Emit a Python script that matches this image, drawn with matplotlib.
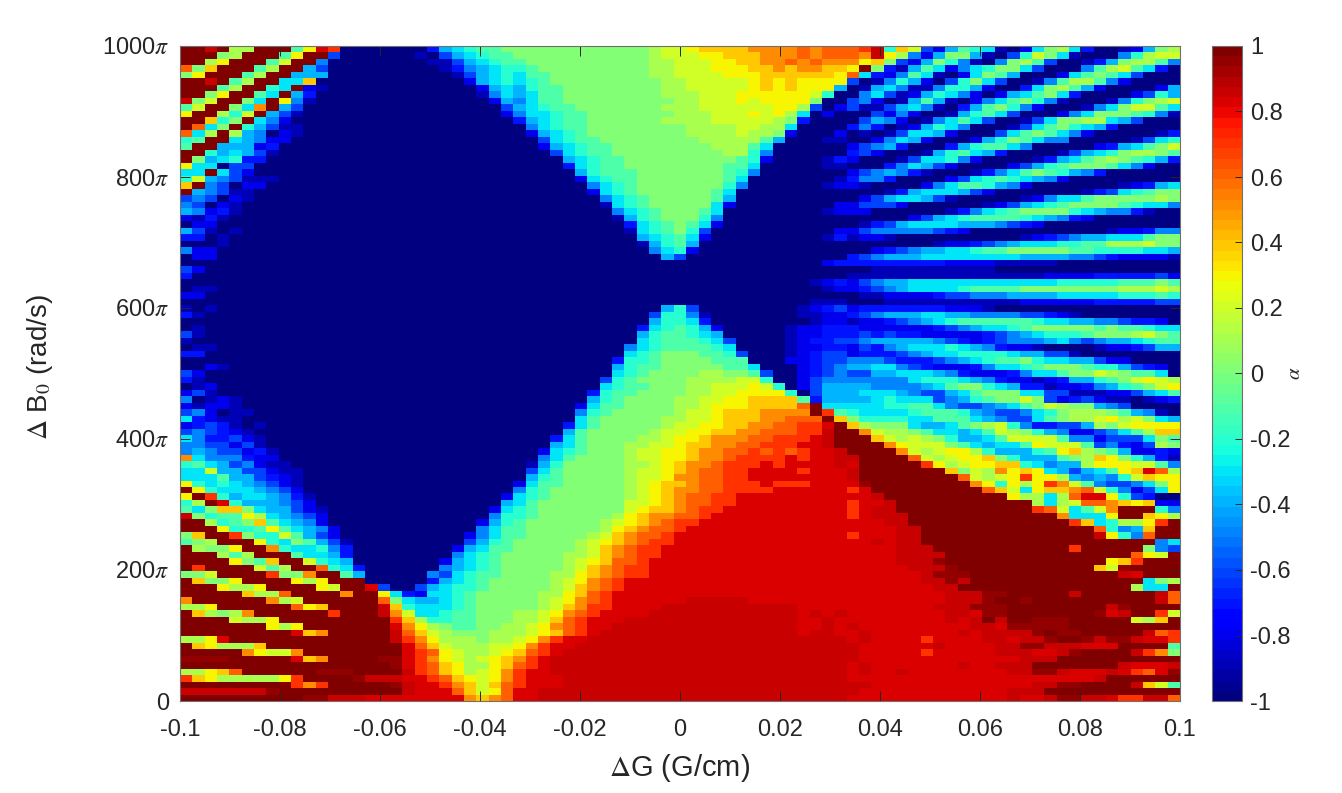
import numpy as np
import matplotlib
matplotlib.use('Agg')
import matplotlib.pyplot as plt

# values, one letter per cell, top row first
# a=-1 ... k=0 ... u=1 (see LEVELS)
LETTERS = 'abcdefghijklmnopqrstuv'
LEVELS = [-1, -.9, -.8, -.7, -.6, -.5, -.4, -.3, -.2, -.1, 0, .1, .2, .3, .4, .5, .6, .7, .82, .87, 1, .95]

# columns 0-26 (short rows carry on in dark blue)
left = [
    "uutulluuujnsraaaaaaadghijjk", "uuukluuujnuueaaaaaabaeghijj", "uulnuuujmuufaaaaaaaabbeghij",
    "qkouuujluugeaaaaaaaaabdfghi", "knuuujluugggaaaaaaaaaabeghi", "uutujluuhhoaaaaaaaaaaaacghi",
    "uuujluuihucbaaaaaaaaaaaacgh", "uuknuujhugdaaaaaaaaaaaaabfh", "tkmuukhunfbaaaaaaaaaaaaaacg",
    "jmuukhpugeaaaaaaaaaaaaaaaae", "nuulimugebaaaaaaaaaaaaaaaac", "uuoikuhfc", "uqhkuigebb", "qhlulgfacb",
    "ijuuhgfcc", "juugggcd", "uuighgeb", "ukghidd", "nhhaee", "hhuhec", "imgfebbb", "oufeacc",
    "ugfebb", "efeacb", "feacb", "gfcdb", "cbdb", "acc", "gebab", "ddab", "aaab", "fcc", "acc",
    "a", "ec", "d", "a", "abb", "cc", "a", "bab", "db", "a", "ab", "eb", "b", "abb", "dd", "a",
    "aacb", "ec", "db", "abc", "ceba", "fabcb", "cbccb", "efcabb", "hdcbbaa", "cdedbab", "efedcb",
    "hfddecb", "ffeeceb", "fgfeecdb", "phfffdcc", "ijhgefcbb", "hhmggeecbb", "hhhjggedcb",
    "nihihgfecb", "unihhhgfec", "nurighhgfdbaaaaaaaaaaaaaaac", "ilusigggfecaaaaaaaaaaaaaaag",
    "jhkookhggecbaaaaaaaaaaaaach", "tkijjnlhgfecaaaaaaaaaaaaafi", "uulijkojhgfcaaaaaaaaaaaacgi",
    "uuuniijnjhgfcaaaaaaaaaaafhj", "kouurkiimjgecaaaaaaaaaacfhj", "jkluuunihkjgebaaaaaaaaaegij",
    "ulkknuupihhifdaaaaaaaacghjj", "uuuljluuujhhgdaaaaaaaafhijk", "uuuunkjouumihgaaaaaaacghijk",
    "uruuuumjluuqihdaaaaaafghijk", "kkmuuuurkkpuujgaaaaafehijjk", "uokknuuuunlnuuuaaaaadghijkk",
    "uuunllnuuuunmuuseaaeghiijkk", "uuuuuollquuuupuunhdchhijkkk", "puuuuuuplmuuuuuuqkhgghijkkk",
    "llnuuuuuuqnouuuutoihhhijkkk", "uolklpuuuuuuruuutpmhhijjkkk", "uuuumllnuuuuuuuuuroliijjkkk",
    "uuuuuuunlnuuuuuuuspnlkjjkkl", "uuuuuuuuusopuuuuutqomlkkkll", "llnsuuuuuuuuuuuuutrpnlllkll",
    "uonlllouuuuuuuuuuusqomlllmm", "uuuuupnmmpuuuuuuuusrqnmllmn", "vvvvuuuuusopuuuuvvsrpnmlmno",
    "uuuuuuuuuuuuuuuuuvsrqonllno", "llnoquuuuuuvvvuuuutrqonlmnp", "ronlllllnruuuuvtttssrqonmnp",
    "uuuuuuuuurpruuuuuvtssrpomoq", "tttttttvuuuuuuuuuutsssqomnq", "uuuuuuuuuuvvtttsssssssspopq",
]

# columns 27-53 (short rows carry on with their last letter)
mid = [
    "kkkkkkkkkkklmmnooooppppqpqq", "kkkkkkkkkkklmmmnnooopppqpqq", "jkkkkkkkkkkllmmmnnooppqpqpp",
    "ijkkkkkkkkkllmmmnnnoopoppoo", "hjjkkkkkkkkllmmmmnnnoooooon", "hijkkkkkkkkkllmmmmmnononnnn",
    "gijjkkkkkkkkllmmmmmnononnng", "ghjjkkkkkkkklllmmmnnnnnnmia", "fhjjkkkkkkkkkllmmmnmnnnnkaa",
    "ghijjkkkkkkklllmmmmmmnnleac", "fhhijjkkkkkkklllmmmnmnlhaca", "dghijjkkkkkkllllmmmmmlkdaaa",
    "afhijjkkkkkkkkllllmmllhaaaa", "acghijkkkkkkkkllllmllkcaaac", "aaehijjkkkkkkkklllllјgaaabb".replace("ј", "j"),
    "aacghijjkkkkkkkkllljhaaaaaa", "aaaehijjkkkkkkkkkllifaaaaaa", "aaaaghijjkkkkkkkkkjicaaaabd",
    "aaaadhijjkkkkkkkkjjhaaaaabb", "aaaaagijjjkkkkkkkjifaaaaaaa", "aaaaachijjkkkkkkkjhaaaaaaab",
    "aaaaaafhijkkkkkkkifaaaaaabc", "aaaaaachijkkkkkkjhaaaaaaaaa", "aaaaaaafhijkkkkkjgaaaaaaaaa",
    "aaaaaaabhijkkkkkhcaaaaaaaac", "aaaaaaaafhijkkkjhaaaaaaaabc", "aaaaaaaabgijkkkifaaaaaaaaaa",
    "aaaaaaaaadhijkjhcaaaaaaaaaa", "aaaaaaaaabhijkieaaaaaaaaaac", "aaaaaaaaaaghijhcaaaaaaaaabd",
    "aaaaaaaaaabgijga", "aaaaaaaaaaafhica", "aaaaaaaaaaaagea",
    "aaaaaaaaaaaaaaaaaaaaaaaaacd", "a", "a", "aaaaaaaaaaaaaaaaaaaaaaaabcd", "aaaaaaaaaaaaaaaaaaaaaaaaabc", "a",
    "aaaaaaaaaaaaaaaaaaaaaaaabbb", "aaaaaaaaaaaagieaaaaaaaabcde", "aaaaaaaaaaaeiifbaaaaaaabbcc",
    "aaaaaaaaaaagiihdaaaaaaaabcc", "aaaaaaaaaadhijigcaaaaabccdd", "aaaaaaaaaagijjihgaaaaabccdd",
    "aaaaaaaaaahijjjiheaaaabcdde", "aaaaaaaaafhijjjjihaaaabccdd", "aaaaaaaaahijkkkjjieaaabcdee",
    "aaaaaaaadiijkkkkjjjaaaccdee", "aaaaaaaagijjkkkkkjjhaaacdef", "aaaaaaaahijkkkkllkkjeaacdef",
    "aaaaaaaeijkkkkllllmmiaaceff", "aaaaaaahijjkkkllmmmnmiacegg", "aaaaaadijjkkkkllmmnnnniaegg",
    "aaaaaagijkkkkllmmnnoooojdgg", "aaaaachjjkkkkllmnnnooooquhh", "aaaaafijkkkkklmmnoooppppurj",
    "aaaaahjkkkkkllmmnoooppqqquo", "aaaadhjkkkkklmmnnooppqqrrsu", "aaaagjkkkkklmmnnooppqqqrrtu",
    "aaadhjkkkkllmnnopppqqrrrstu", "aaaghjkkkllmmnooppqqrrrsstu",
    "aachijkkklmmnnoppqqrqrqrsst", "aafhjkkkklmmnnoppqrrrrsrsst", "abgikkkkkllmnoppqrrrsrsssst",
    "aehjkkkkklmmnopqqrrssssrsss", "agijkkkkklmmnppqqrrssssssss",
    "chjjkkkkklmnoopqqrrrsrrrsss", "fijkkkkkklmnoppqqrrrrssssss", "hijkkkkkklmnopqqrrsssssssss",
    "hjkkkkkkkmmnopqqrrsssssssss", "ijkkkkkkkmnoopqrrssssssssss", "ijkkkkkklnoppqqrsssssssssss",
    "jkkkkkklmnopqrrssssssssssss", "jkkkkkklnopqqrsssssssssssss", "jkkkkklmopqqrssssssssssssss",
    "kkkkklmnopqrrssssssssssssss", "kkkkklmopqrrsssssssssssssss", "kkkkllmopqrrsssssssssssssss",
    "kkkklmnoqqrssssssssssssssss", "kkkklmopqrrssssssssssssssss", "kkkllnopqrrssssssssssssssss",
    "kkklmnpqrssssssssssssssssss", "kkklmopqrssssssssssssssssss", "kkllnoqrsssssssssssssssssss",
    "kklmnpqrsssssstttttssssssss", "kklmoprrsssstttttttttttssss", "llmnpqrssssttttttttttttstst",
    "llmoqrssstttttttttttttt" + "ssts", "lmnpqrsstttttttttttttttssts", "lmnoqrstttttttttttttttt" + "stts",
    "mnprssttttttttttttttttttttt", "nprsstttttttttttttttttttttt", "oqrsttttttttttttttttttttttt",
    "prstttttttttttttttttttttttt", "qrstttttttttttttttttttttttt", "rsstttttttttttttttttttttttt",
    "rsssttttttttttttttttttttttt", "rsssttttttttttttttttttttttt", "ssttttttttttttttttttttttttt",
    "ssttttttttttttttttttttttttt",
]

# columns 54-80
right = [
    "qrtiomecgjihbachklhdaabcgkl", "qptnlfcgkkgbaeimkhbaaafilmm", "pnokecgkifbafkljeaabdgklljf",
    "nukdbgjhcfhikkheaaafjlmjhda", "qhdcfjhbachkjgaaachjkjheaaa", "eabfigcaeikheaabfjlljfcaaaa",
    "abghfbbfiigcaadhkljgcaaaacg", "afhebcgihfcacghjkhdaaaaceig", "efcabgjgbacfhjkifbaaabfiklm",
    "ebbeghfbadgjkifcaaabfhkmmjh", "aaecfcaabgijheaaacfhkkkjifb", "aegfcabfhjheaabehkkllhgeaaa",
    "dfdabcgihfaaabehjkihgdaaaaa", "ababehhgcaaaehjkjhfcaaaaabd", "aacfhgcaaacgikjhffaaaaabehi",
    "cefgdaaadgijjhfaaaaacdghjkm", "decaaabgijhgdaaaabeghikllkj", "caaabehhifcaaaabdghjklkjigd",
    "aaadfhgecaaaacegijkkkjhfcaa", "cefgfdbaaabdfhjkjigfdaaaaaa", "dffdaaaacehijihgfcaaaaaaaaa",
    "cbaaaacfhjjigfcaaaaaaabcdgh", "aaabdghhhgecaaaaaaabdehijkk", "aceghhgebaaaaabcfhhjkkkkklk",
    "ceeecaaaaaabceghijkkkkjihhf", "ccaaaaaabdfhijkkkkihgffdbaa", "aaaaacegh" + "ijjjjihgfdcaaaaaaa",
    "abdeghhhhgggfedcaaaaaaaaaaa", "cefffffedcaaaaaaaaaaabccdff", "bccbaaaaaaaaaabcdefgghhhjkk",
    "aaaaaaabccdefghhhiijjlllmkk", "aacdefgghhijjkkkkkjjiiiihhg", "defggghhhhhhhhggggffedccccb",
    "ddddddddccccbbbbbaaaaaaaaaa", "aabbbbbbbbbbaaaaaaaaaaaaaaa", "bbbbbbbbbbbbbbbbccccdddddec",
    "cefgghhhhhhhhhhhhiiiiijjjkj", "cdefghhhhijjjjkkkkkkkklllml", "abbccccdeefffgggghhhhhiiiji",
    "aaabbbbbbbbbbbccccccdddddee", "cdddddddcccbaaaaaaaaaaaaaaa", "defggghhggffffeedcbaaaaaaaa",
    "bccdefghijjjjjjihhggffeddca", "dccccccdefghhijkkkkkjkjjihh", "dededdcccccdefghiiijkkklmkj",
    "efgggggfedcdefffghfefgghijj", "cedfghhhihgfdccbaaaabccdegg", "cdddefghhiiiihggeebaaaaaaaa",
    "fffedddefghijjkihhggeccaaaa", "gghhfedcccdfhhijkkkjiigedca", "eegghhhgfdcccdfhhjkkmlkjjha",
    "fffffhiiihgfdccbcdggijkmnml", "ggffffghjkkihgddbccdfgijkmn", "ghhhgfeeghjkkkhheebbbcceghj",
    "gghihhhefgijkkmkecdecbbabcd", "hhhiijjhfeefghjkmlkkgfeaaaa", "ihhhhijjjigfeefhiklllkjgfba",
    "kiiiihhjjjhgfeehjkllmnlmkhg", "olkkkhgghjklmifddeeglkmnnnn", "upmllkjhhghjmlkigfccefhjloo",
    "uuomlmlkigghjmmmmjffceeehkj", "uuupnmmmkjhghhjnmmmjefdcelk", "uuuupmlmnnliggg" + "ijnolkjgccdc",
    "tuuuuqmlmnnokigggjklonkigdb", "suuuuurnlmnnooihfgglnnnmmjf", "tuuuuuuuokmlpnonhgeghjnosql",
    "tuuuuuuuuqmlmnrnnlgfgfimonn", "svuuuuuuuupninlnrpmjfeefhkn", "rsuuuuuuuuuqomhnoopqmifcehn",
    "sstuuuuuuuuuunllhlqssniedaa", "rsstuuuuuuuuuuulhlmqqponocc", "rsttuuuuuuuuuuurqmhjmpuuuif",
    "rstttuuuuuuuuuuuuphhhnuuonl", "ssstt" + "uuuuuuuuuuuuu" + "rohillnru", "sssstt" + "uuuuuuuuuuuuuu" + "qifgouu",
    "rssstt" + "uuuuuuuuuuuuuu" + "tnifquu", "sststtuuuuuuuuuuuuuuuuuuufh", "sssstttuuuuuuuuuuuruuuuukfe",
    "ssssttttuuuuuuuuuuuuuuuqnmu", "sssstttvuuuuuuuuuuuuunoruuu", "ssssstttvuuuuuuuuuuuomvuuuu",
    "sssssstvvvuuuuuuuuuuuutsuuu", "ssssss" + "ttvt" + "uuuuuuuuuuuuuu" + "hkl", "sssssssttuuuuuuuuuuuuuulhhu",
    "sssssssstttvvuuuuutuuuuuutq", "sssssssstttvuuvuuuuuuuuuutq", "ssssssstttvvvuuuuuuuutvuuuu",
    "ssssssssttsvvuuuuuuuvstuurm", "sssssssststutuuvvvuuuuumlou", "tsssssssssttsvvvvvuuuuuuuuu",
    "stssssssststtttvuvvuuuuutqrs"[:27], "stssssrsssstt" + "sttvuuvtvvtssr", "tsssssstssssttvvtttsssuuuuj",
    "tsssssrsssssttt" + "sstvuuuutrpk", "tssssssssssssstttuuuuuuuuuu", "stssssssstssttt" + "uuuuuuutssst",
    "stsstssssssssttvvtssstsrqsv", "ssssssssssssssssssss" + "tuuuuuu", "ttsssssssssssssttvvuuuutomj",
    "tsssssssssssstttuuuuuuuuuuu", "sssssssssssssts" + "stvvttsrrttq",
]

xticks = [-0.1, -0.08, -0.06, -0.04, -0.02, 0, 0.02, 0.04, 0.06, 0.08, 0.1]
xticklabels = ['-0.1', '-0.08', '-0.06', '-0.04', '-0.02', '0', '0.02', '0.04', '0.06', '0.08', '0.1']
yticks = [0, 200, 400, 600, 800, 1000]
yticklabels = ['0', r'200$\pi$', r'400$\pi$', r'600$\pi$', r'800$\pi$', r'1000$\pi$']
cticks = [-1, -0.8, -0.6, -0.4, -0.2, 0, 0.2, 0.4, 0.6, 0.8, 1]
cticklabels = ['-1', '-0.8', '-0.6', '-0.4', '-0.2', '0', '0.2', '0.4', '0.6', '0.8', '1']

plt.rcParams['font.family'] = ['Liberation Sans', 'DejaVu Sans']
plt.rcParams['mathtext.fontset'] = 'stix'
dark = '#262626'


def fit(row, fill=None):
    return row.ljust(27, fill or row[-1])[:27]


grid = []
for i in range(len(left)):
    text = fit(left[i], 'a') + fit(mid[i]) + fit(right[i])
    grid.append([LEVELS[LETTERS.index(c)] for c in text])
# first row in the lists is the top of the chart
grid = np.array(grid)[::-1]

W, H = 1342, 793
fig = plt.figure(figsize=(W / 100, H / 100), dpi=100)
ax = fig.add_axes([180 / W, 1 - 701 / H, 1000 / W, 655 / H])

xedges = np.linspace(-0.1, 0.1, grid.shape[1] + 1)
yedges = np.linspace(0, 1000, grid.shape[0] + 1)
mesh = ax.pcolormesh(xedges, yedges, grid, cmap=plt.get_cmap('jet', 64), vmin=-1, vmax=1)

ax.set_xticks(xticks)
ax.set_xticklabels(xticklabels)
ax.set_yticks(yticks)
ax.set_yticklabels(yticklabels)
ax.tick_params(direction='in', length=7, width=0.7, top=True, right=True,
               color=dark, labelcolor=dark, labelsize=17)
ax.tick_params(axis='x', pad=13)
ax.tick_params(axis='y', pad=8)
ax.set_xlabel(r'$\Delta$G (G/cm)', fontsize=21, color=dark)
ax.xaxis.set_label_coords(0.5, -0.078)
ax.set_ylabel(r'$\Delta$ B$_0$ (rad/s)', fontsize=20, color=dark)
ax.yaxis.set_label_coords(-0.125, 0.51)
for s in ax.spines.values():
    s.set_color('#707070')
    s.set_linewidth(0.8)

cax = fig.add_axes([1212 / W, 1 - 701 / H, 30 / W, 655 / H])
cb = fig.colorbar(mesh, cax=cax)
cb.set_ticks(cticks)
cb.set_ticklabels(cticklabels)
cb.ax.tick_params(direction='in', length=5, width=0.7, color=dark, labelcolor=dark,
                  labelsize=17, pad=6)
cb.outline.set_edgecolor('#707070')
cb.outline.set_linewidth(0.8)
cb.set_label(r'$\alpha$', fontsize=15, color=dark, labelpad=-4)

fig.savefig('out.png', dpi=100)
